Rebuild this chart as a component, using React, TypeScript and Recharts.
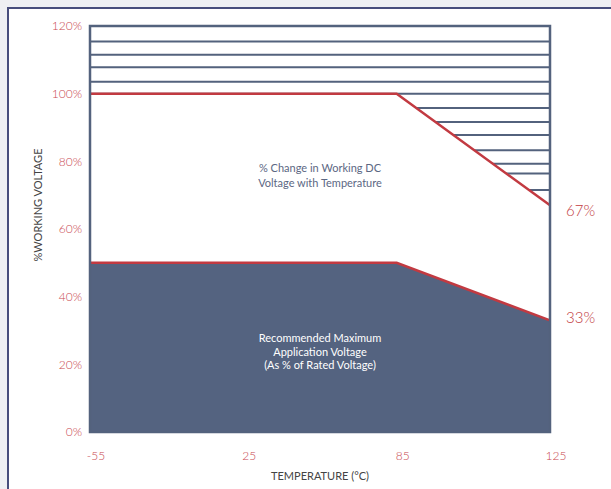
import React from 'react';
import { ComposedChart, Area, Line, XAxis, YAxis, ReferenceLine, ReferenceArea, LabelList } from 'recharts';

// temperature points, drawn evenly spaced like the original
const temps = ['-55', '25', '85', '125'];
const workingDc = [100, 100, 100, 67];
const maxApplication = [50, 50, 50, 33];
const yTicks = [0, 20, 40, 60, 80, 100, 120];
// horizontal hatch lines above the working voltage curve
const hatchLevels = [115.4, 111.5, 107.8, 103.5, 100, 95.8, 91.6, 87.8, 83.3, 79.3, 76.4, 71.5];

const upperNote = ['% Change in Working DC', 'Voltage with Temperature'];
const lowerNote = ['Recommended Maximum', 'Application Voltage', '(As % of Rated Voltage)'];

const data = temps.map((t, i) => ({ temp: t, working: workingDc[i], maxApp: maxApplication[i] }));

const RED = '#c23a41';
const TICK_RED = '#c9484f';
const SLATE = '#53627d';
const FONT = 'Lato, "Open Sans", sans-serif';

function noteLabel(lines: string[], color: string, lineHeight: number) {
  return ({ viewBox }: any) => {
    const cx = viewBox.x + viewBox.width / 2;
    const cy = viewBox.y + viewBox.height / 2 - ((lines.length - 1) * lineHeight) / 2;
    return (
      <text x={cx} y={cy} textAnchor="middle" dominantBaseline="central" fill={color} fontSize={11} fontFamily={FONT}>
        {lines.map((l, i) => (
          <tspan key={l} x={cx} dy={i === 0 ? 0 : lineHeight}>
            {l}
          </tspan>
        ))}
      </text>
    );
  };
}

function endLabel(dy: number) {
  return (props: any) => {
    if (props.index !== temps.length - 1) return null;
    return (
      <text x={props.x + 16} y={props.y + dy} dominantBaseline="central" fill={RED} fontSize={15} fontWeight={300} fontFamily={FONT}>
        {props.value}%
      </text>
    );
  };
}

export default function App() {
  return (
    <div style={{ position: 'fixed', inset: 0, background: '#eef0f3', overflow: 'hidden' }}>
      <div
        style={{
          position: 'absolute',
          left: 7,
          top: 7,
          width: 800,
          height: 700,
          background: '#fff',
          borderLeft: '2px solid #474e7c',
          borderTop: '2px solid #474e7c',
        }}
      />
      <div style={{ position: 'absolute', left: 0, top: 0 }}>
        <ComposedChart width={611} height={489} data={data} margin={{ top: 26, right: 61, bottom: 7, left: 30 }}>
          <XAxis
            dataKey="temp"
            height={50}
            axisLine={false}
            tickLine={false}
            tickMargin={13}
            tick={{ fill: TICK_RED, fontSize: 12, fontWeight: 300, fontFamily: FONT, dx: 6 }}
            label={{ value: 'TEMPERATURE (°C)', position: 'insideBottom', offset: 2, fill: '#444', fontSize: 11, fontFamily: FONT }}
          />
          <YAxis
            width={60}
            domain={[0, 120]}
            ticks={yTicks}
            axisLine={false}
            tickLine={false}
            tickFormatter={(v) => `${v}%`}
            tick={{ fill: TICK_RED, fontSize: 12, fontWeight: 300, fontFamily: FONT }}
            label={{
              content: ({ viewBox }: any) => (
                <text
                  x={viewBox.x + 7}
                  y={viewBox.y + viewBox.height / 2 - 24}
                  transform={`rotate(-90, ${viewBox.x + 7}, ${viewBox.y + viewBox.height / 2 - 24})`}
                  textAnchor="middle"
                  dominantBaseline="central"
                  fill="#444"
                  fontSize={11}
                  fontFamily={FONT}
                >
                  %WORKING VOLTAGE
                </text>
              ),
            }}
          />
          {hatchLevels.map((lv) => (
            <ReferenceLine key={lv} y={lv} stroke={SLATE} strokeWidth={2} zIndex={50} />
          ))}
          <Area
            dataKey="working"
            type="linear"
            stroke="none"
            fill="#ffffff"
            fillOpacity={1}
            isAnimationActive={false}
            zIndex={100}
          />
          <Area
            dataKey="maxApp"
            type="linear"
            stroke={RED}
            strokeWidth={2.5}
            fill="#546380"
            fillOpacity={1}
            isAnimationActive={false}
            zIndex={110}
          >
            <LabelList dataKey="maxApp" content={endLabel(-3)} />
          </Area>
          <Line dataKey="working" type="linear" stroke={RED} strokeWidth={2.5} dot={false} isAnimationActive={false} zIndex={400}>
            <LabelList dataKey="working" content={endLabel(5)} />
          </Line>
          <ReferenceArea
            x1="-55"
            x2="125"
            y1={0}
            y2={120}
            fill="none"
            fillOpacity={0}
            stroke={SLATE}
            strokeWidth={2.5}
            zIndex={450}
          />
          <ReferenceArea x1="-55" x2="125" y1={70} y2={82} fill="none" fillOpacity={0} stroke="none" label={noteLabel(upperNote, '#5c6783', 15)} zIndex={460} />
          <ReferenceArea x1="-55" x2="125" y1={18} y2={30} fill="none" fillOpacity={0} stroke="none" label={noteLabel(lowerNote, '#ffffff', 13.5)} zIndex={460} />
        </ComposedChart>
      </div>
    </div>
  );
}
